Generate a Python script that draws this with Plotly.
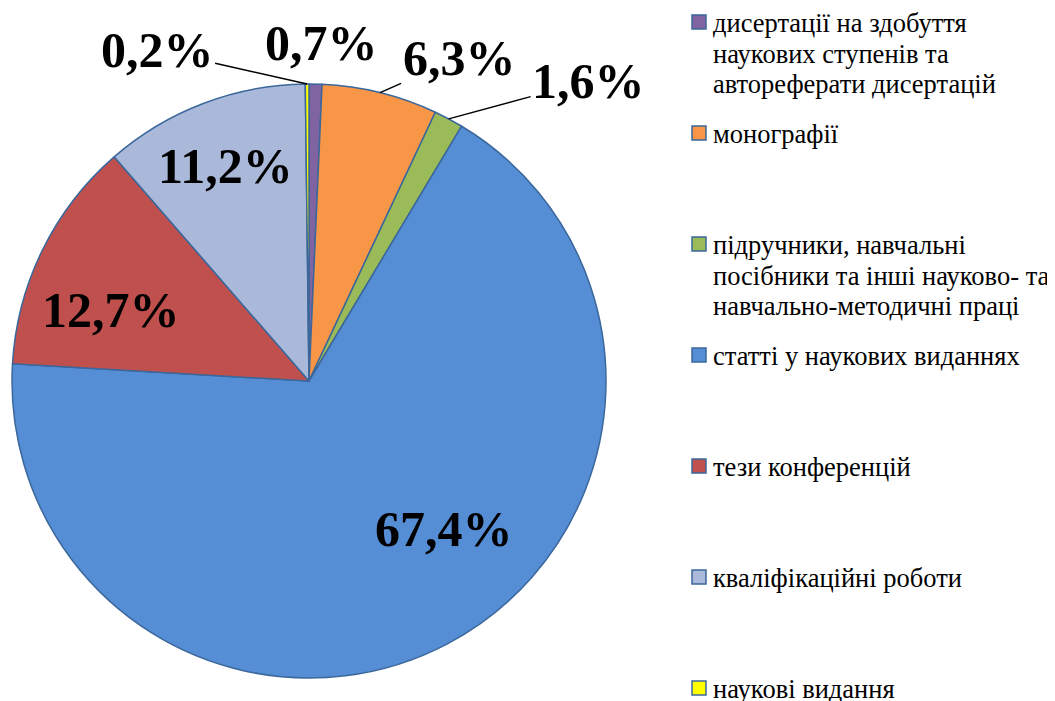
import math
import plotly.graph_objects as go

# ---------------- data ----------------
categories = [
    "дисертації на здобуття<br>наукових ступенів та<br>автореферати дисертацій",
    "монографії",
    "підручники, навчальні<br>посібники та інші науково- та<br>навчально-методичні праці",
    "статті у наукових виданнях",
    "тези конференцій",
    "кваліфікаційні роботи",
    "наукові видання",
]
values = [0.7, 6.3, 1.6, 67.4, 12.7, 11.2, 0.2]
colors = ["#8064A2", "#F79646", "#9BBB59", "#558ED5", "#C0504D", "#AAB9D9", "#FFFF00"]

# ---------------- layout constants ----------------
W, H = 1055, 701
OFF = 8                              # page body margin in the browser
CX, CY, R = 309, 381, 297            # pie centre / radius in window pixels
SERIF = "Liberation Serif, Times New Roman, serif"
LABEL_SIZE = 50
LEGEND_SIZE = 26.5
LEGEND_LINE = 30.7
BORDER = "#3B679B"


def px(x):
    return (x - OFF) / W


def py(y):
    return 1 - (y - OFF) / H


# label placement style: offset (px) from rim point at slice mid-angle, leader line?
label_style = [
    (6, -41, False),
    (79, -35, True),
    (140, -38, True),
    (-4, -115, False),
    (69, 60, False),
    (22, 63, False),
    (-150, -34, True),
]

fig = go.Figure()
fig.add_trace(go.Pie(
    labels=[c.replace("<br>", " ") for c in categories],
    values=values,
    sort=False,
    direction="clockwise",
    rotation=0,
    marker=dict(colors=colors, line=dict(color=BORDER, width=1.5)),
    textinfo="none",
    hoverinfo="label+percent",
    showlegend=False,
    domain=dict(x=[px(CX - R), px(CX + R)], y=[py(CY + R), py(CY - R)]),
))

annotations = []
shapes = []
total = sum(values)
cum = 0.0
for v, (dx, dy, leader) in zip(values, label_style):
    mid = (cum + v / 2) / total * 2 * math.pi
    cum += v
    rx = CX + R * math.sin(mid)
    ry = CY - R * math.cos(mid)
    txt = f"<b>{v:.1f}".replace(".", ",") + "%</b>"
    font = dict(family=SERIF, size=LABEL_SIZE, color="black")
    if leader:
        annotations.append(dict(
            x=px(rx), y=py(ry), xref="paper", yref="paper",
            text=txt, font=font, showarrow=True, arrowhead=0,
            arrowwidth=1.5, arrowcolor="black", ax=dx, ay=dy, standoff=0,
        ))
    else:
        annotations.append(dict(
            x=px(rx + dx), y=py(ry + dy), xref="paper", yref="paper",
            text=txt, font=font, showarrow=False,
            xanchor="center", yanchor="middle",
        ))

# ---------------- legend (right side) ----------------
LEG_SQ_X0, LEG_SQ_SIZE = 692, 14
LEG_TEXT_X = 711
LEG_FIRST, LEG_STEP = 22, 111
for i, (cat, col) in enumerate(zip(categories, colors)):
    yc = LEG_FIRST + i * LEG_STEP
    shapes.append(dict(
        type="rect", xref="paper", yref="paper",
        x0=px(LEG_SQ_X0), x1=px(LEG_SQ_X0 + LEG_SQ_SIZE),
        y0=py(yc - LEG_SQ_SIZE / 2), y1=py(yc + LEG_SQ_SIZE / 2),
        fillcolor=col, line=dict(color=BORDER, width=1.5),
    ))
    for k, line in enumerate(cat.split("<br>")):
        annotations.append(dict(
            x=px(LEG_TEXT_X), y=py(yc + k * LEGEND_LINE + 1),
            xref="paper", yref="paper", text=line, showarrow=False,
            xanchor="left", yanchor="middle", align="left",
            font=dict(family=SERIF, size=LEGEND_SIZE, color="black"),
        ))

fig.update_layout(
    width=W, height=H,
    margin=dict(l=0, r=0, t=0, b=0),
    paper_bgcolor="white", plot_bgcolor="white",
    annotations=annotations, shapes=shapes,
)

fig.write_html("out.html")
